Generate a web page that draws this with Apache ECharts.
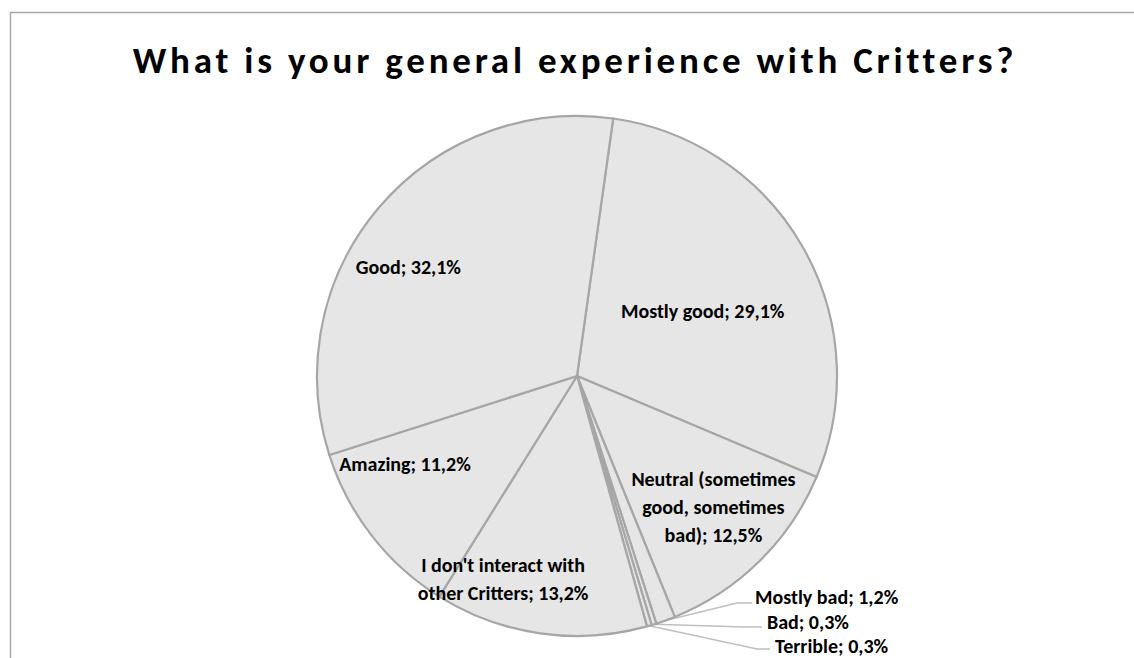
<!DOCTYPE html>
<html>
<head>
<meta charset="utf-8">
<script src="https://cdn.jsdelivr.net/npm/echarts@6/dist/echarts.min.js"></script>
<style>
  html, body { margin: 0; padding: 0; background: #ffffff; }
  #chart { width: 1134px; height: 658px; }
</style>
</head>
<body>
<div id="chart"></div>
<script>
// Survey answers, in drawing order (clockwise from just right of twelve o'clock)
const titleText = 'What is your general experience with Critters?';
const categories = [
  'Mostly good',
  'Neutral (sometimes good, sometimes bad)',
  'Mostly bad',
  'Bad',
  'Terrible',
  "I don't interact with other Critters",
  'Amazing',
  'Good'
];
const shares = [29.1, 12.5, 1.2, 0.3, 0.3, 13.2, 11.2, 32.1];

// Line breaks used when printing the long answer texts
const labelBreaks = {
  'Neutral (sometimes good, sometimes bad)': 'Neutral (sometimes\ngood, sometimes\nbad)',
  "I don't interact with other Critters": "I don't interact with\nother Critters"
};

// Nudges (px) applied to the labels that sit inside their slice
const insideNudge = {
  'Mostly good': [10, 1],
  'Neutral (sometimes good, sometimes bad)': [43, 36],
  "I don't interact with other Critters": [-55, 71],
  'Amazing': [-67, 6],
  'Good': [-67, -23]
};

// Thin slices get their label outside, with a leader line
const outsideSpots = {
  'Mostly bad': { textX: 755, textY: 597, lineY: 603, bendX: 737, endX: 752 },
  'Bad':        { textX: 767, textY: 622, lineY: 627, bendX: 745, endX: 762 },
  'Terrible':   { textX: 775, textY: 646, lineY: 649, bendX: 757, endX: 770 }
};

// Title typography (tracked-out heading)
const titleSpacing = 3.8;
const titleCenterX = 575;

const fontStack = "Carlito, 'Open Sans', 'Noto Sans', sans-serif";

function formatShare(v) {
  return v.toFixed(1).replace('.', ',') + '%';
}

const pieData = categories.map((name, i) => {
  const item = { name: name, value: shares[i] };
  if (outsideSpots[name]) {
    item.label = { position: 'outside' };
    item.labelLine = { show: true };
  }
  return item;
});

const chart = echarts.init(document.getElementById('chart'), null, { renderer: 'svg' });

// Track out the heading letters and keep it centred
function spaceTitle() {
  const svg = document.querySelector('#chart svg');
  if (!svg) return false;
  let done = false;
  const svgBox = svg.getBoundingClientRect();
  svg.querySelectorAll('text').forEach((t) => {
    if (t.textContent !== titleText) return;
    done = true;
    if (t.dataset.tracked) return;
    t.dataset.tracked = '1';
    t.style.letterSpacing = titleSpacing + 'px';
    const box = t.getBoundingClientRect();
    const mid = box.left - svgBox.left + box.width / 2;
    const x0 = parseFloat(t.getAttribute('x') || '0');
    t.setAttribute('x', x0 + (titleCenterX - mid));
  });
  return done;
}
chart.on('finished', spaceTitle);

chart.setOption({
  backgroundColor: '#ffffff',
  animation: false,
  title: {
    text: titleText,
    left: 'center',
    top: 37,
    textStyle: {
      fontFamily: fontStack,
      fontSize: 37,
      fontWeight: 'bold',
      color: '#000000'
    }
  },
  graphic: [{
    type: 'rect',
    silent: true,
    shape: { x: 10.5, y: 12.5, width: 1400, height: 1000 },
    style: { fill: null, stroke: '#a9a9a9', lineWidth: 1.5 }
  }],
  series: [{
    type: 'pie',
    center: [577, 376],
    radius: 260,
    startAngle: 82,
    clockwise: true,
    avoidLabelOverlap: false,
    emphasis: { disabled: true },
    itemStyle: {
      color: '#e6e6e6',
      borderColor: '#a6a6a6',
      borderWidth: 2.2
    },
    label: {
      show: true,
      position: 'inside',
      fontFamily: fontStack,
      fontSize: 20,
      fontWeight: 'bold',
      color: '#000000',
      lineHeight: 28,
      align: 'center',
      formatter: (p) => (labelBreaks[p.name] || p.name) + '; ' + formatShare(p.value)
    },
    labelLine: {
      show: false,
      lineStyle: { color: '#bfbfbf', width: 1.5 }
    },
    labelLayout: (params) => {
      const name = categories[params.dataIndex];
      const spot = outsideSpots[name];
      if (spot) {
        let start = params.labelLinePoints && params.labelLinePoints[0];
        if (!start) {
          const lay = chart.getModel().getSeriesByIndex(0).getData().getItemLayout(params.dataIndex);
          const mid = (lay.startAngle + lay.endAngle) / 2;
          start = [lay.cx + lay.r * Math.cos(mid), lay.cy + lay.r * Math.sin(mid)];
        }
        return {
          x: spot.textX,
          y: spot.textY,
          align: 'left',
          verticalAlign: 'middle',
          labelLinePoints: [
            [start[0], start[1]],
            [spot.bendX, spot.lineY],
            [spot.endX, spot.lineY]
          ]
        };
      }
      const nudge = insideNudge[name] || [0, 0];
      return { dx: nudge[0], dy: nudge[1] };
    },
    data: pieData
  }]
});

// The SVG may be flushed on the next frame; retry until the heading exists
(function retry(n) {
  if (spaceTitle() || n <= 0) return;
  requestAnimationFrame(() => retry(n - 1));
})(60);
setTimeout(spaceTitle, 50);
</script>
</body>
</html>
